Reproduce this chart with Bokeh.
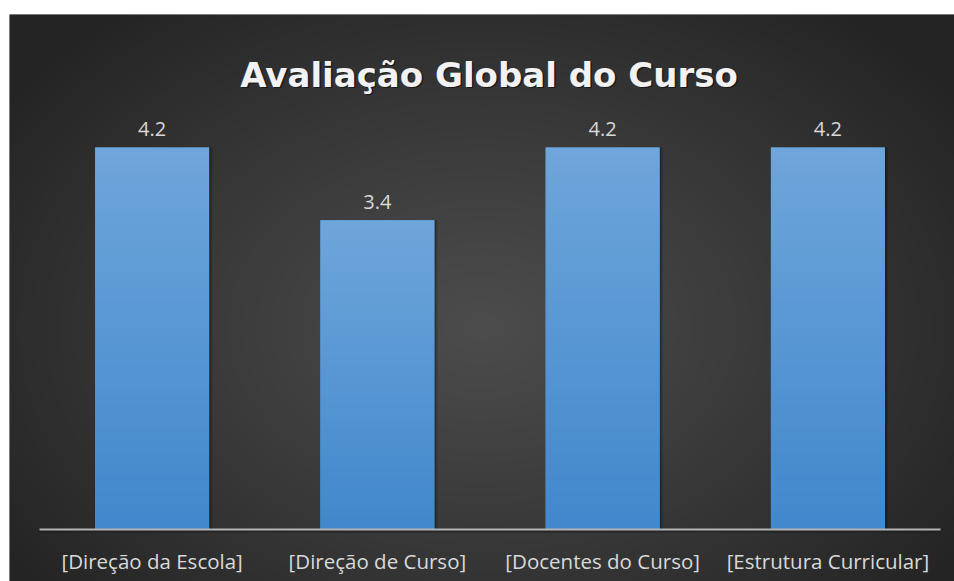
import numpy as np
from bokeh.plotting import figure
from bokeh.models import Range1d
from bokeh.core.properties import value
from bokeh.embed import file_html
from bokeh.resources import INLINE

# ---- data ----
categories = ["[Direção da Escola]", "[Direção de Curso]", "[Docentes do Curso]", "[Estrutura Curricular]"]
scores = [4.2, 3.4, 4.2, 4.2]
score_labels = ["4.2", "3.4", "4.2", "4.2"]
title_text = "Avaliação Global do Curso"

# ---- layout constants ----
W, H = 954, 581
FL, FT = 9, 14                    # frame border left/top
FW, FH = W - FL, H - FT           # frame size 945 x 567
X0, X1 = -0.1332, 4.062
Y0, Y1 = -0.572, 5.662
BAR_W = 0.506

p = figure(width=W, height=H, x_range=Range1d(X0, X1), y_range=Range1d(Y0, Y1),
           x_axis_location=None, y_axis_location=None,
           toolbar_location=None, output_backend="svg",
           min_border_left=FL, min_border_top=FT, min_border_right=0, min_border_bottom=0,
           border_fill_color="white", background_fill_color="#333333", outline_line_color=None)
p.grid.visible = False

# ---- radial background ----
bw, bh = FW // 2, FH // 2
xs = np.linspace(0, FW, bw)
ys = np.linspace(FH, 0, bh)  # row 0 = bottom
gx, gy = np.meshgrid(xs, ys)
cx, cy = FW * 0.50, FH * 0.55
t = np.sqrt(((gx - cx) / (FW * 0.62)) ** 2 + ((gy - cy) / (FH * 0.72)) ** 2)
t = np.clip(t, 0, 1) ** 1.1
c_in = np.array([0x4c, 0x4c, 0x4c], float)
c_out = np.array([0x24, 0x24, 0x24], float)
bg = np.empty((bh, bw), dtype=np.uint32)
v = bg.view(dtype=np.uint8).reshape((bh, bw, 4))
for k in range(3):
    v[:, :, k] = (c_in[k] + (c_out[k] - c_in[k]) * t).astype(np.uint8)
v[:, :, 3] = 255
p.image_rgba(image=[bg], x=X0, y=Y0, dw=X1 - X0, dh=Y1 - Y0)

xpos = [i + 0.5 for i in range(len(categories))]
px = (X1 - X0) / FW
py = (Y1 - Y0) / FH

# ---- bar shadows ----
p.vbar(x=[x + 3 * px for x in xpos], top=scores, width=BAR_W, bottom=0,
       fill_color="black", fill_alpha=0.18, line_color=None)
p.vbar(x=[x + 1.5 * px for x in xpos], top=scores, width=BAR_W, bottom=0,
       fill_color="black", fill_alpha=0.18, line_color=None)

# ---- bars ----
p.vbar(x=xpos, top=scores, width=BAR_W, bottom=0, fill_color="#5797d3", line_color=None)
top_c = np.array([0x6f, 0xa6, 0xdb], float)
bot_c = np.array([0x41, 0x88, 0xcc], float)
nrow = 160
imgs = []
for s in scores:
    g = np.empty((nrow, 1), dtype=np.uint32)
    gv = g.view(dtype=np.uint8).reshape((nrow, 1, 4))
    f = np.linspace(0, 1, nrow)[:, None]
    for k in range(3):
        gv[:, :, k] = (bot_c[k] + (top_c[k] - bot_c[k]) * f).astype(np.uint8)
    gv[:, :, 3] = 255
    imgs.append(g)
p.image_rgba(image=imgs, x=[x - BAR_W / 2 for x in xpos], y=[0] * len(scores),
             dw=[BAR_W] * len(scores), dh=scores)

# ---- baseline ----
p.segment(x0=[0], x1=[len(categories)], y0=[-2 * py], y1=[-2 * py], line_color="#1c1c1c", line_width=2, line_alpha=0.6)
p.segment(x0=[0], x1=[len(categories)], y0=[0], y1=[0], line_color="#b3b3b3", line_width=2)

# ---- value labels ----
p.text(x=xpos, y=[s + 18 * py for s in scores], text=score_labels,
       text_align="center", text_baseline="alphabetic",
       text_font=value("Open Sans"), text_font_size="20px", text_color="#d9d9d9")

# ---- category labels ----
p.text(x=xpos, y=[-32 * py] * len(categories), text=categories,
       text_align="center", text_baseline="alphabetic",
       text_font=value("Open Sans"), text_font_size="20.5px", text_color="#d9d9d9")

# ---- title ----
tx = (488.5 - 9) * px + X0
ty = Y1 - (74 - 14) * py
TF = value("DejaVu Sans")
p.text(x=[tx], y=[ty], text=[title_text], x_offset=1.5, y_offset=1.5,
       text_align="center", text_baseline="alphabetic", text_font=TF,
       text_font_style="bold", text_font_size="34px", text_color="black", text_alpha=0.5)
p.text(x=[tx], y=[ty], text=[title_text],
       text_align="center", text_baseline="alphabetic", text_font=TF,
       text_font_style="bold", text_font_size="34px", text_color="#f2f2f2")

open("out.html", "w").write(file_html(p, INLINE))
